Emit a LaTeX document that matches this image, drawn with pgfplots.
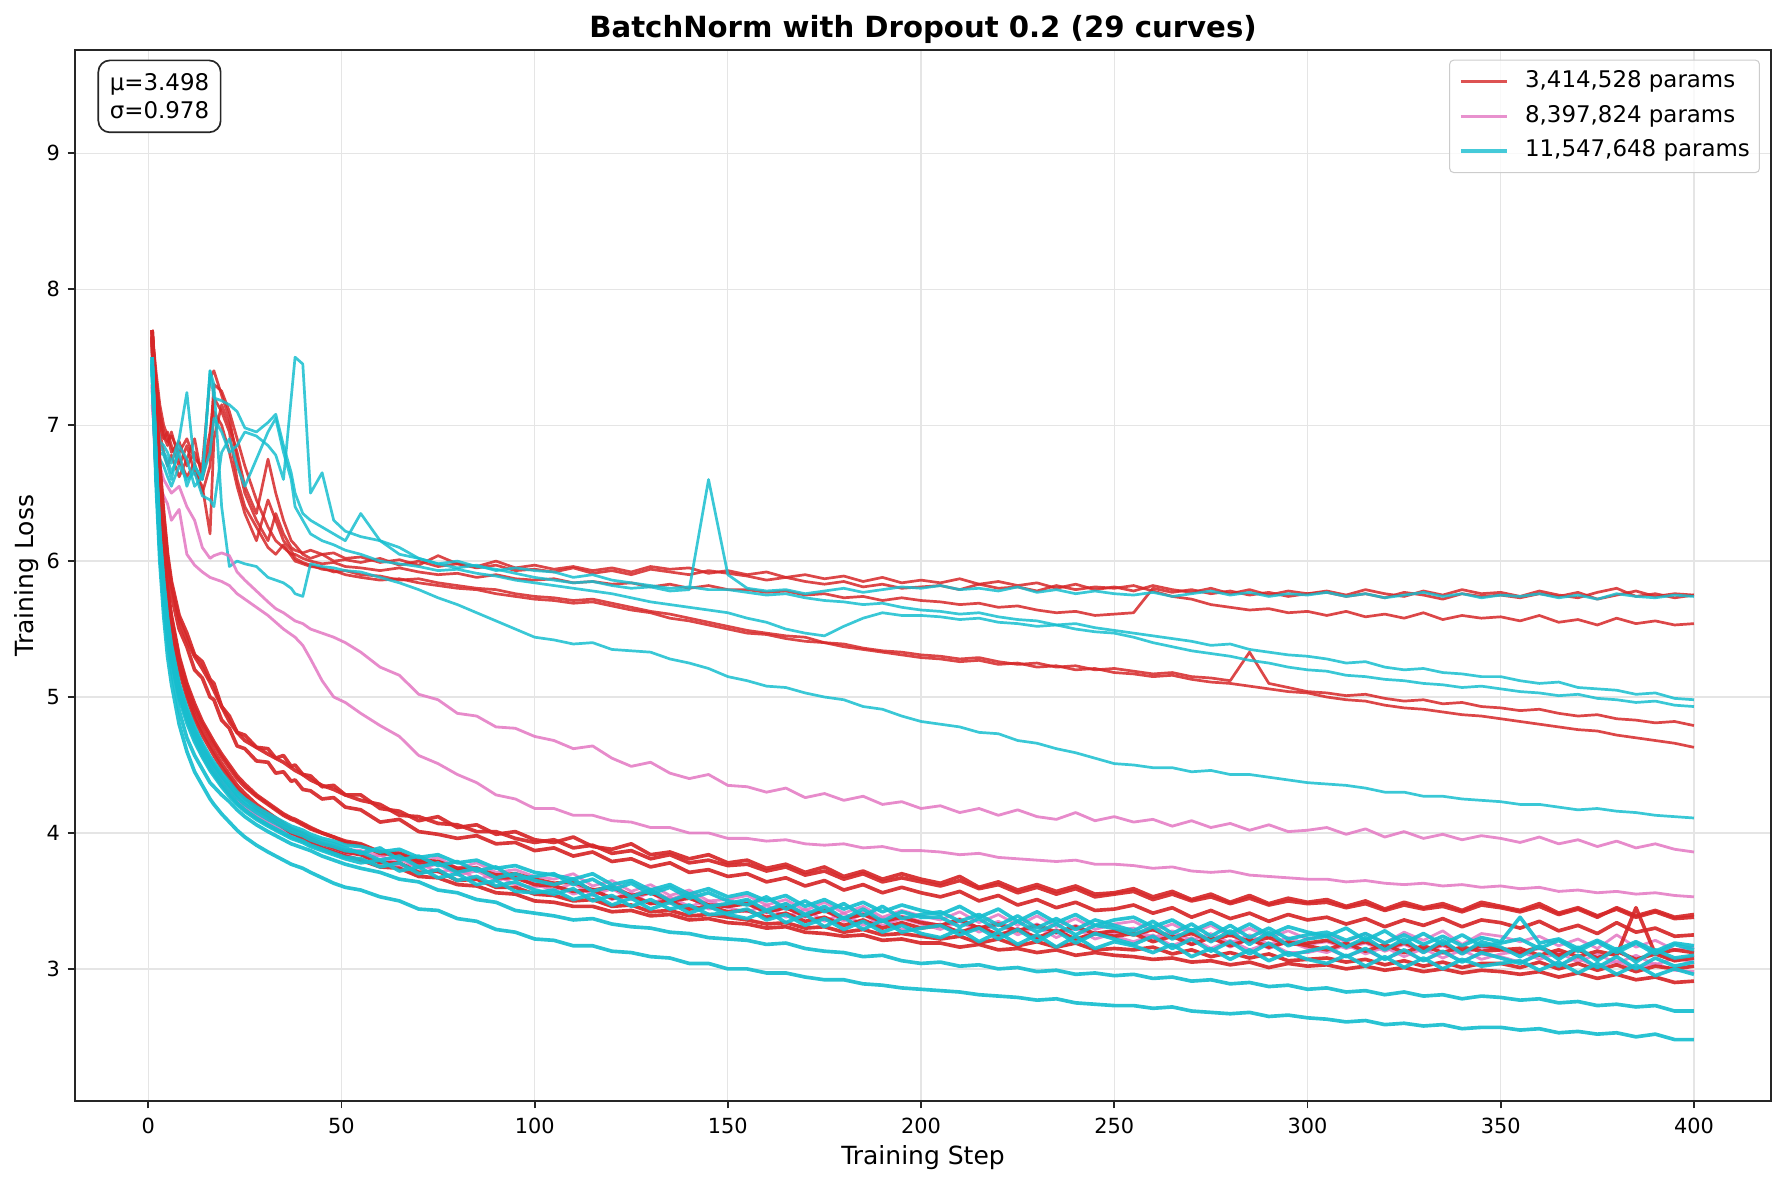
\documentclass[border=0pt]{standalone}
\usepackage{fontspec}
\setmainfont{DejaVu Sans}
\usepackage{pgfplots}
\usepackage{pgfplotstable}
\pgfplotsset{compat=1.18}
\definecolor{tred}{RGB}{214,39,40}
\definecolor{tpink}{RGB}{227,119,194}
\definecolor{tcyan}{RGB}{23,190,207}
\pgfplotstableread[header=false]{
x 1 2 3 4 5 6 8 10 12 14 16 17 19 21 23 25 28 31 33 35 37 38 40 42 45 48 51 55 60 65 70 75 80 85 90 95 100 105 110 115 120 125 130 135 140 145 150 155 160 165 170 175 180 185 190 195 200 205 210 215 220 225 230 235 240 245 250 255 260 265 270 275 280 285 290 295 300 305 310 315 320 325 330 335 340 345 350 355 360 365 370 375 380 385 390 395 400
ra 7.70 7.35 7.10 6.95 6.88 6.92 6.80 6.90 6.75 6.70 7.35 7.40 7.22 7.05 6.75 6.50 6.30 6.15 6.35 6.20 6.10 6.08 6.06 6.08 6.05 6.06 6.02 6.03 5.99 6.01 5.97 6.04 5.98 5.96 6.00 5.95 5.97 5.94 5.96 5.93 5.95 5.92 5.96 5.94 5.95 5.91 5.93 5.90 5.92 5.88 5.90 5.87 5.89 5.85 5.88 5.84 5.86 5.84 5.87 5.83 5.85 5.82 5.84 5.80 5.83 5.79 5.81 5.78 5.82 5.79 5.77 5.80 5.76 5.79 5.75 5.78 5.76 5.78 5.75 5.79 5.76 5.74 5.78 5.75 5.79 5.76 5.77 5.74 5.78 5.75 5.73 5.77 5.80 5.74 5.76 5.73 5.75
rb 7.68 7.30 7.00 6.90 6.95 6.85 6.70 6.85 6.65 6.55 6.20 6.90 7.15 7.00 6.80 6.55 6.35 6.75 6.50 6.30 6.15 6.12 6.05 6.02 6.05 6.00 6.01 5.99 6.02 5.97 6.00 5.96 5.98 5.95 5.97 5.93 5.94 5.92 5.95 5.91 5.93 5.90 5.94 5.92 5.90 5.93 5.91 5.89 5.86 5.88 5.85 5.83 5.85 5.81 5.83 5.80 5.81 5.82 5.79 5.83 5.80 5.81 5.78 5.82 5.79 5.81 5.80 5.82 5.78 5.74 5.72 5.68 5.66 5.64 5.65 5.62 5.63 5.60 5.63 5.59 5.61 5.58 5.62 5.57 5.60 5.58 5.59 5.56 5.60 5.55 5.57 5.53 5.58 5.54 5.56 5.53 5.54
rc 7.66 7.25 6.95 6.80 6.70 6.78 6.62 6.75 6.90 6.60 6.85 7.30 7.25 7.10 6.90 6.70 6.45 6.25 6.15 6.10 6.05 6.05 6.02 6.00 5.98 5.99 5.96 5.95 5.93 5.95 5.92 5.90 5.91 5.88 5.90 5.87 5.86 5.87 5.84 5.85 5.83 5.84 5.81 5.83 5.80 5.82 5.79 5.79 5.77 5.78 5.75 5.76 5.73 5.74 5.71 5.73 5.71 5.70 5.68 5.69 5.66 5.67 5.64 5.62 5.63 5.60 5.61 5.62 5.80 5.77 5.79 5.76 5.78 5.75 5.77 5.74 5.76 5.77 5.74 5.76 5.73 5.77 5.75 5.72 5.76 5.74 5.75 5.73 5.76 5.74 5.77 5.72 5.75 5.78 5.74 5.76 5.75
rd 7.70 7.40 7.15 7.00 6.92 6.80 6.88 6.70 6.80 6.65 6.95 7.20 7.10 6.95 6.60 6.40 6.25 6.10 6.05 6.12 6.04 6.00 5.98 5.96 5.95 5.92 5.93 5.90 5.89 5.86 5.87 5.84 5.82 5.80 5.79 5.76 5.74 5.73 5.71 5.72 5.69 5.66 5.63 5.61 5.58 5.55 5.52 5.49 5.47 5.45 5.44 5.40 5.39 5.36 5.34 5.33 5.31 5.30 5.28 5.29 5.26 5.24 5.25 5.22 5.23 5.20 5.21 5.19 5.17 5.18 5.15 5.14 5.12 5.33 5.10 5.07 5.04 5.03 5.01 5.02 4.99 4.97 4.98 4.95 4.96 4.93 4.92 4.90 4.91 4.88 4.86 4.87 4.84 4.83 4.81 4.82 4.79
re 7.69 7.32 7.05 6.92 6.85 6.95 6.75 6.62 6.72 6.50 6.70 7.10 7.00 6.80 6.55 6.35 6.15 6.45 6.30 6.15 6.08 6.02 5.99 5.97 5.94 5.93 5.90 5.88 5.86 5.87 5.84 5.82 5.80 5.79 5.76 5.74 5.72 5.71 5.69 5.70 5.67 5.64 5.62 5.58 5.56 5.53 5.50 5.47 5.46 5.43 5.41 5.40 5.37 5.35 5.33 5.31 5.29 5.28 5.26 5.27 5.24 5.25 5.22 5.23 5.20 5.21 5.18 5.17 5.15 5.16 5.13 5.11 5.10 5.08 5.06 5.04 5.03 5.00 4.98 4.97 4.94 4.92 4.91 4.89 4.87 4.86 4.84 4.82 4.80 4.78 4.76 4.75 4.72 4.70 4.68 4.66 4.63
ca 7.55 7.10 6.88 6.85 6.80 6.72 6.90 7.24 6.70 6.60 7.40 7.20 7.18 7.15 7.10 6.98 6.95 7.02 7.08 6.85 6.65 6.50 6.35 6.30 6.25 6.20 6.15 6.35 6.15 6.05 6.02 5.98 6.00 5.96 5.94 5.91 5.88 5.86 5.84 5.85 5.82 5.80 5.81 5.78 5.79 6.60 5.90 5.80 5.78 5.79 5.76 5.78 5.80 5.77 5.79 5.81 5.80 5.82 5.79 5.80 5.78 5.81 5.77 5.79 5.76 5.78 5.76 5.75 5.77 5.74 5.76 5.78 5.75 5.77 5.74 5.76 5.75 5.77 5.74 5.76 5.73 5.75 5.77 5.74 5.76 5.73 5.75 5.74 5.76 5.73 5.75 5.72 5.76 5.74 5.73 5.75 5.74
cb 7.55 7.05 6.80 6.78 6.70 6.60 6.85 6.75 6.55 6.62 6.80 7.05 6.95 6.80 6.85 6.95 6.92 6.85 6.78 6.60 7.20 7.50 7.45 6.50 6.65 6.30 6.22 6.18 6.15 6.10 6.02 5.98 5.95 5.97 5.93 5.95 5.93 5.92 5.88 5.90 5.86 5.84 5.82 5.80 5.81 5.79 5.79 5.77 5.75 5.76 5.73 5.71 5.70 5.68 5.69 5.66 5.64 5.63 5.61 5.62 5.59 5.57 5.56 5.53 5.54 5.51 5.49 5.47 5.45 5.43 5.41 5.38 5.39 5.35 5.33 5.31 5.30 5.28 5.25 5.26 5.22 5.20 5.21 5.18 5.17 5.15 5.15 5.12 5.10 5.11 5.07 5.06 5.05 5.02 5.03 4.99 4.98
cc 7.52 7.00 6.75 6.70 6.62 6.55 6.70 6.60 6.65 6.48 6.45 6.40 6.80 6.90 6.70 6.55 6.75 6.95 7.05 6.80 6.60 6.40 6.30 6.20 6.15 6.12 6.08 6.05 6.00 5.98 5.96 5.93 5.94 5.91 5.89 5.86 5.84 5.82 5.80 5.78 5.76 5.73 5.70 5.68 5.66 5.64 5.62 5.58 5.55 5.50 5.47 5.45 5.52 5.58 5.62 5.60 5.60 5.59 5.57 5.58 5.55 5.54 5.52 5.53 5.50 5.48 5.47 5.44 5.40 5.37 5.34 5.32 5.30 5.27 5.25 5.22 5.20 5.19 5.16 5.15 5.13 5.12 5.10 5.09 5.07 5.08 5.06 5.04 5.03 5.01 5.02 4.99 4.98 4.96 4.97 4.94 4.93
cd 7.50 7.00 6.85 6.80 6.75 6.65 6.80 6.55 6.70 6.60 7.40 7.30 6.40 5.96 6.00 5.98 5.96 5.88 5.86 5.84 5.80 5.76 5.74 5.98 5.96 5.95 5.93 5.92 5.88 5.84 5.79 5.73 5.68 5.62 5.56 5.50 5.44 5.42 5.39 5.40 5.35 5.34 5.33 5.28 5.25 5.21 5.15 5.12 5.08 5.07 5.03 5.00 4.98 4.93 4.91 4.86 4.82 4.80 4.78 4.74 4.73 4.68 4.66 4.62 4.59 4.55 4.51 4.50 4.48 4.48 4.45 4.46 4.43 4.43 4.41 4.39 4.37 4.36 4.35 4.33 4.30 4.30 4.27 4.27 4.25 4.24 4.23 4.21 4.21 4.19 4.17 4.18 4.16 4.15 4.13 4.12 4.11
pa 7.25 6.95 6.70 6.60 6.55 6.50 6.55 6.40 6.30 6.10 6.02 6.04 6.06 6.04 5.92 5.86 5.78 5.70 5.65 5.62 5.58 5.56 5.54 5.50 5.47 5.44 5.40 5.33 5.22 5.16 5.02 4.98 4.88 4.86 4.78 4.77 4.71 4.68 4.62 4.64 4.55 4.49 4.52 4.44 4.40 4.43 4.35 4.34 4.30 4.33 4.26 4.29 4.24 4.27 4.21 4.23 4.18 4.20 4.15 4.18 4.13 4.17 4.12 4.10 4.15 4.09 4.12 4.08 4.10 4.05 4.09 4.04 4.07 4.02 4.06 4.01 4.02 4.04 3.99 4.03 3.97 4.01 3.96 3.99 3.95 3.98 3.96 3.93 3.97 3.92 3.95 3.90 3.94 3.89 3.92 3.88 3.86
pb 7.15 6.80 6.55 6.48 6.42 6.30 6.38 6.05 5.97 5.92 5.88 5.87 5.85 5.82 5.76 5.72 5.66 5.60 5.55 5.50 5.46 5.44 5.38 5.28 5.12 5.00 4.96 4.88 4.79 4.71 4.57 4.51 4.43 4.37 4.28 4.25 4.18 4.18 4.13 4.13 4.09 4.08 4.04 4.04 4.00 4.00 3.96 3.96 3.94 3.95 3.92 3.91 3.92 3.89 3.90 3.87 3.87 3.86 3.84 3.85 3.82 3.81 3.80 3.79 3.80 3.77 3.77 3.76 3.74 3.75 3.72 3.71 3.72 3.69 3.68 3.67 3.66 3.66 3.64 3.65 3.63 3.62 3.63 3.61 3.62 3.60 3.61 3.59 3.60 3.57 3.58 3.56 3.57 3.55 3.56 3.54 3.53
pc 7.30 6.65 6.12 5.78 5.52 5.32 5.05 4.87 4.73 4.61 4.51 4.47 4.39 4.32 4.26 4.21 4.15 4.10 4.07 4.04 4.01 4.00 3.98 3.96 3.93 3.91 3.88 3.87 3.83 3.86 3.79 3.82 3.74 3.78 3.71 3.73 3.68 3.66 3.70 3.61 3.65 3.57 3.62 3.54 3.58 3.50 3.51 3.54 3.47 3.51 3.43 3.49 3.41 3.46 3.38 3.43 3.39 3.36 3.42 3.34 3.40 3.32 3.39 3.31 3.37 3.29 3.33 3.35 3.28 3.33 3.26 3.32 3.24 3.30 3.23 3.28 3.22 3.25 3.20 3.26 3.19 3.27 3.21 3.28 3.18 3.26 3.24 3.20 3.24 3.17 3.22 3.15 3.25 3.16 3.21 3.14 3.16
pd 7.28 6.62 6.08 5.74 5.48 5.28 5.01 4.83 4.69 4.57 4.47 4.43 4.35 4.28 4.22 4.17 4.11 4.06 4.03 4.00 3.97 3.96 3.94 3.92 3.89 3.87 3.84 3.80 3.84 3.75 3.78 3.71 3.74 3.66 3.69 3.62 3.60 3.62 3.55 3.59 3.51 3.56 3.48 3.53 3.46 3.50 3.45 3.42 3.47 3.38 3.44 3.35 3.41 3.32 3.38 3.29 3.30 3.33 3.27 3.31 3.24 3.30 3.22 3.29 3.21 3.27 3.24 3.20 3.25 3.17 3.23 3.15 3.21 3.14 3.19 3.12 3.12 3.15 3.09 3.14 3.07 3.13 3.06 3.12 3.06 3.11 3.09 3.05 3.10 3.03 3.08 3.01 3.06 3.00 3.04 2.99 2.98
pe 7.30 6.64 6.10 5.76 5.50 5.30 5.03 4.85 4.71 4.59 4.49 4.45 4.37 4.30 4.24 4.19 4.13 4.08 4.05 4.02 3.99 3.98 3.96 3.94 3.91 3.89 3.86 3.84 3.80 3.83 3.76 3.79 3.72 3.75 3.67 3.70 3.64 3.62 3.66 3.57 3.62 3.54 3.59 3.51 3.56 3.47 3.48 3.50 3.44 3.48 3.40 3.45 3.37 3.42 3.35 3.39 3.35 3.32 3.37 3.30 3.35 3.28 3.33 3.26 3.32 3.25 3.28 3.30 3.23 3.28 3.21 3.26 3.19 3.25 3.18 3.23 3.18 3.20 3.15 3.19 3.13 3.18 3.12 3.17 3.11 3.16 3.14 3.11 3.15 3.09 3.14 3.08 3.13 3.07 3.12 3.06 3.10
pf 7.29 6.63 6.09 5.75 5.49 5.29 5.02 4.84 4.70 4.58 4.48 4.44 4.36 4.29 4.23 4.18 4.12 4.07 4.04 4.01 3.98 3.97 3.95 3.93 3.90 3.88 3.85 3.85 3.78 3.81 3.74 3.77 3.69 3.72 3.65 3.68 3.62 3.58 3.63 3.54 3.59 3.51 3.56 3.48 3.53 3.44 3.46 3.48 3.41 3.45 3.38 3.43 3.35 3.40 3.32 3.37 3.33 3.29 3.35 3.27 3.33 3.25 3.31 3.23 3.30 3.22 3.26 3.28 3.21 3.26 3.18 3.24 3.16 3.22 3.15 3.20 3.15 3.12 3.18 3.11 3.16 3.09 3.15 3.08 3.14 3.07 3.11 3.13 3.07 3.12 3.05 3.11 3.04 3.10 3.03 3.08 3.05
la 7.70 7.20 6.70 6.35 6.05 5.85 5.60 5.47 5.31 5.26 5.13 5.10 4.93 4.86 4.74 4.72 4.63 4.62 4.55 4.57 4.49 4.50 4.43 4.42 4.34 4.35 4.28 4.28 4.18 4.16 4.09 4.12 4.04 4.06 3.99 4.01 3.95 3.93 3.97 3.90 3.88 3.92 3.84 3.86 3.81 3.84 3.78 3.80 3.74 3.77 3.71 3.75 3.68 3.72 3.66 3.70 3.66 3.63 3.68 3.60 3.64 3.58 3.62 3.57 3.61 3.55 3.56 3.59 3.53 3.57 3.51 3.55 3.49 3.54 3.48 3.52 3.49 3.51 3.46 3.50 3.44 3.49 3.45 3.48 3.43 3.49 3.46 3.43 3.48 3.41 3.45 3.39 3.44 3.38 3.42 3.37 3.38
lb 7.70 7.10 6.60 6.25 5.95 5.75 5.50 5.37 5.20 5.14 5.00 4.98 4.83 4.77 4.64 4.62 4.53 4.52 4.44 4.45 4.38 4.39 4.32 4.31 4.25 4.26 4.19 4.17 4.08 4.10 4.01 3.99 3.96 3.98 3.92 3.93 3.87 3.89 3.83 3.86 3.79 3.81 3.75 3.78 3.71 3.73 3.68 3.70 3.64 3.67 3.61 3.65 3.58 3.62 3.56 3.60 3.56 3.53 3.57 3.50 3.54 3.47 3.51 3.45 3.49 3.43 3.44 3.47 3.41 3.45 3.38 3.43 3.37 3.41 3.35 3.40 3.36 3.38 3.33 3.37 3.31 3.36 3.32 3.37 3.31 3.36 3.34 3.30 3.35 3.28 3.32 3.26 3.34 3.27 3.30 3.24 3.25
lc 7.65 6.95 6.40 6.05 5.78 5.58 5.28 5.08 4.92 4.80 4.70 4.65 4.56 4.48 4.40 4.34 4.27 4.21 4.17 4.13 4.10 4.09 4.06 4.03 4.00 3.97 3.94 3.92 3.86 3.85 3.80 3.79 3.74 3.74 3.69 3.70 3.66 3.63 3.64 3.58 3.60 3.54 3.56 3.50 3.52 3.47 3.46 3.48 3.42 3.45 3.39 3.43 3.37 3.40 3.35 3.38 3.34 3.32 3.36 3.30 3.33 3.28 3.32 3.27 3.31 3.26 3.28 3.25 3.29 3.23 3.26 3.21 3.25 3.20 3.23 3.18 3.19 3.21 3.17 3.20 3.15 3.19 3.14 3.18 3.13 3.17 3.15 3.12 3.16 3.10 3.14 3.08 3.13 3.07 3.11 3.06 3.08
ld 7.62 6.90 6.32 5.98 5.70 5.50 5.20 5.00 4.84 4.72 4.62 4.57 4.48 4.40 4.32 4.26 4.18 4.12 4.08 4.04 4.00 3.99 3.96 3.93 3.89 3.86 3.83 3.80 3.75 3.74 3.68 3.67 3.62 3.61 3.56 3.55 3.50 3.49 3.46 3.46 3.42 3.43 3.39 3.40 3.36 3.37 3.34 3.33 3.30 3.31 3.27 3.26 3.24 3.25 3.21 3.22 3.19 3.19 3.16 3.18 3.14 3.15 3.12 3.14 3.10 3.12 3.10 3.09 3.07 3.08 3.05 3.06 3.03 3.05 3.01 3.04 3.02 3.03 3.00 3.02 2.99 3.01 2.98 3.00 2.97 2.99 2.98 2.96 2.98 2.94 2.97 2.93 2.96 2.92 2.94 2.90 2.91
le 7.66 6.98 6.42 6.08 5.80 5.60 5.30 5.10 4.95 4.82 4.72 4.67 4.58 4.50 4.42 4.36 4.28 4.22 4.18 4.14 4.11 4.10 4.07 4.04 4.00 3.97 3.93 3.91 3.85 3.84 3.78 3.79 3.72 3.74 3.67 3.67 3.62 3.61 3.57 3.58 3.52 3.54 3.48 3.50 3.44 3.46 3.42 3.43 3.38 3.41 3.35 3.38 3.32 3.36 3.30 3.34 3.30 3.32 3.27 3.31 3.25 3.29 3.23 3.28 3.22 3.26 3.24 3.26 3.20 3.24 3.18 3.23 3.17 3.22 3.16 3.20 3.17 3.14 3.19 3.13 3.18 3.12 3.17 3.12 3.16 3.13 3.14 3.15 3.10 3.14 3.09 3.13 3.10 3.45 3.11 3.14 3.12
lf 7.64 6.92 6.36 6.01 5.73 5.53 5.23 5.03 4.87 4.75 4.65 4.60 4.51 4.43 4.35 4.29 4.21 4.15 4.11 4.07 4.03 4.02 3.99 3.96 3.92 3.89 3.86 3.84 3.78 3.78 3.71 3.72 3.65 3.66 3.60 3.60 3.55 3.54 3.50 3.51 3.46 3.47 3.42 3.43 3.39 3.40 3.38 3.36 3.33 3.34 3.30 3.31 3.27 3.29 3.25 3.26 3.24 3.22 3.24 3.19 3.22 3.17 3.20 3.16 3.19 3.14 3.15 3.14 3.16 3.11 3.14 3.09 3.12 3.08 3.11 3.06 3.07 3.08 3.05 3.07 3.03 3.06 3.02 3.05 3.01 3.04 3.04 3.01 3.05 3.00 3.04 2.99 3.03 2.98 3.02 3.00 3.02
lg 7.70 7.18 6.68 6.32 6.02 5.82 5.57 5.42 5.30 5.21 5.11 5.05 4.93 4.82 4.74 4.68 4.63 4.58 4.55 4.52 4.48 4.46 4.43 4.39 4.35 4.32 4.28 4.24 4.21 4.13 4.12 4.07 4.06 4.01 4.01 3.96 3.93 3.95 3.89 3.91 3.85 3.87 3.81 3.84 3.78 3.80 3.76 3.77 3.72 3.75 3.69 3.72 3.66 3.70 3.64 3.67 3.64 3.61 3.65 3.59 3.62 3.56 3.60 3.55 3.59 3.53 3.55 3.57 3.51 3.55 3.50 3.53 3.48 3.52 3.47 3.50 3.48 3.49 3.45 3.48 3.43 3.47 3.44 3.46 3.42 3.47 3.45 3.42 3.46 3.40 3.44 3.38 3.45 3.39 3.43 3.38 3.40
ma 7.45 6.75 6.20 5.85 5.58 5.38 5.10 4.92 4.78 4.66 4.56 4.52 4.44 4.37 4.30 4.25 4.19 4.14 4.11 4.08 4.05 4.04 4.02 3.99 3.96 3.94 3.91 3.90 3.86 3.88 3.82 3.84 3.78 3.80 3.74 3.76 3.71 3.69 3.66 3.70 3.62 3.65 3.58 3.62 3.55 3.59 3.53 3.56 3.50 3.54 3.46 3.51 3.44 3.49 3.42 3.47 3.43 3.40 3.46 3.38 3.44 3.35 3.42 3.34 3.40 3.32 3.36 3.38 3.31 3.36 3.28 3.34 3.26 3.33 3.25 3.31 3.27 3.24 3.30 3.21 3.28 3.19 3.26 3.18 3.25 3.17 3.19 3.22 3.15 3.21 3.13 3.20 3.12 3.19 3.11 3.18 3.14
mb 7.45 6.70 6.12 5.77 5.50 5.30 5.02 4.84 4.70 4.58 4.48 4.44 4.36 4.29 4.22 4.17 4.11 4.06 4.03 4.00 3.97 3.96 3.94 3.91 3.88 3.85 3.82 3.81 3.75 3.78 3.70 3.73 3.65 3.68 3.61 3.64 3.58 3.55 3.59 3.50 3.54 3.46 3.51 3.44 3.47 3.40 3.41 3.44 3.36 3.40 3.32 3.37 3.29 3.35 3.27 3.32 3.26 3.23 3.29 3.20 3.27 3.18 3.25 3.16 3.24 3.15 3.20 3.17 3.12 3.18 3.09 3.15 3.07 3.14 3.06 3.12 3.07 3.04 3.10 3.02 3.09 3.01 3.08 3.00 3.07 3.02 3.04 3.06 2.99 3.05 2.97 3.04 2.96 3.03 2.95 3.00 2.96
mc 7.50 6.70 6.10 5.70 5.40 5.20 4.90 4.70 4.57 4.47 4.37 4.34 4.28 4.23 4.17 4.12 4.06 4.01 3.98 3.95 3.92 3.91 3.89 3.87 3.83 3.80 3.77 3.74 3.71 3.66 3.64 3.58 3.56 3.51 3.49 3.43 3.41 3.39 3.36 3.37 3.33 3.31 3.30 3.27 3.26 3.23 3.22 3.21 3.18 3.19 3.15 3.13 3.12 3.09 3.10 3.06 3.04 3.05 3.02 3.03 3.00 3.01 2.98 2.99 2.96 2.97 2.95 2.96 2.93 2.94 2.91 2.92 2.89 2.90 2.87 2.88 2.85 2.86 2.83 2.84 2.81 2.83 2.80 2.81 2.78 2.80 2.79 2.77 2.78 2.75 2.76 2.73 2.74 2.72 2.73 2.69 2.69
md 7.50 6.60 6.00 5.60 5.30 5.10 4.80 4.60 4.45 4.35 4.25 4.21 4.14 4.08 4.02 3.97 3.91 3.86 3.83 3.80 3.77 3.76 3.74 3.71 3.67 3.63 3.60 3.58 3.53 3.50 3.44 3.43 3.37 3.35 3.29 3.27 3.22 3.21 3.17 3.17 3.13 3.12 3.09 3.08 3.04 3.04 3.00 3.00 2.97 2.97 2.94 2.92 2.92 2.89 2.88 2.86 2.85 2.84 2.83 2.81 2.80 2.79 2.77 2.78 2.75 2.74 2.73 2.73 2.71 2.72 2.69 2.68 2.67 2.68 2.65 2.66 2.64 2.63 2.61 2.62 2.59 2.60 2.58 2.59 2.56 2.57 2.57 2.55 2.56 2.53 2.54 2.52 2.53 2.50 2.52 2.48 2.48
me 7.45 6.72 6.16 5.81 5.54 5.34 5.06 4.88 4.74 4.62 4.52 4.48 4.40 4.33 4.26 4.21 4.15 4.10 4.07 4.04 4.01 4.00 3.98 3.95 3.92 3.90 3.87 3.86 3.80 3.83 3.75 3.78 3.71 3.74 3.67 3.70 3.65 3.62 3.66 3.57 3.61 3.53 3.58 3.50 3.55 3.46 3.48 3.51 3.43 3.48 3.40 3.46 3.37 3.44 3.35 3.42 3.38 3.38 3.31 3.37 3.28 3.35 3.27 3.33 3.25 3.32 3.30 3.25 3.31 3.22 3.29 3.20 3.28 3.18 3.27 3.17 3.22 3.24 3.16 3.23 3.14 3.22 3.12 3.21 3.11 3.20 3.16 3.09 3.17 3.07 3.16 3.06 3.15 3.05 3.14 3.08 3.10
mf 7.45 6.68 6.10 5.74 5.47 5.27 4.99 4.81 4.67 4.56 4.46 4.42 4.34 4.27 4.21 4.16 4.10 4.05 4.02 3.99 3.96 3.95 3.93 3.90 3.87 3.84 3.81 3.78 3.80 3.72 3.75 3.67 3.70 3.62 3.65 3.57 3.56 3.58 3.51 3.55 3.47 3.52 3.44 3.49 3.41 3.46 3.40 3.37 3.43 3.34 3.40 3.31 3.38 3.29 3.36 3.27 3.30 3.32 3.25 3.30 3.22 3.29 3.20 3.28 3.19 3.26 3.22 3.18 3.24 3.15 3.22 3.13 3.20 3.11 3.19 3.10 3.13 3.16 3.09 3.15 3.07 3.14 3.06 3.13 3.05 3.12 3.08 3.04 3.11 3.02 3.10 3.01 3.09 3.00 3.08 3.02 3.05
mg 7.48 6.74 6.18 5.83 5.56 5.36 5.08 4.90 4.76 4.64 4.54 4.50 4.42 4.35 4.28 4.23 4.17 4.12 4.09 4.06 4.03 4.02 4.00 3.97 3.94 3.92 3.89 3.85 3.89 3.80 3.83 3.76 3.79 3.72 3.75 3.66 3.68 3.70 3.62 3.66 3.58 3.63 3.55 3.60 3.52 3.56 3.50 3.47 3.53 3.44 3.50 3.42 3.48 3.39 3.46 3.37 3.40 3.42 3.35 3.40 3.32 3.39 3.30 3.37 3.29 3.36 3.32 3.28 3.35 3.26 3.33 3.24 3.32 3.23 3.30 3.22 3.25 3.27 3.21 3.26 3.19 3.25 3.18 3.24 3.17 3.23 3.20 3.38 3.19 3.22 3.15 3.21 3.14 3.20 3.13 3.19 3.17
}\wide
\pgfplotstabletranspose[colnames from=0]{\tall}{\wide}
\pgfplotsset{
  up/.style={line width=1.3pt, draw opacity=0.85, line join=round, forget plot},
  pk/.style={line width=1.35pt, draw opacity=0.85, line join=round, forget plot},
  lo/.style={line width=1.75pt, draw opacity=0.92, line join=round, forget plot},
}
\begin{document}
\begin{tikzpicture}
\begin{axis}[
  scale only axis, width=814.1pt, height=504.5pt,
  xmin=-18.95, xmax=419.95, ymin=2.028, ymax=9.76,
  xtick={0,50,...,400}, ytick={3,4,...,9},
  grid=major, major grid style={black!10, line width=0.6pt},
  axis line style={black!85, line width=1.1pt},
  tick align=outside, major tick length=3.5pt, tick pos=left,
  tick style={black!85, line width=0.9pt},
  /pgf/number format/assume math mode=true,
  ticklabel style={font=\fontsize{10}{12}\selectfont},
  xticklabel style={anchor=base, inner sep=0pt, yshift=-12.1pt},
  yticklabel style={anchor=east, inner sep=0pt, xshift=-3.5pt},
  xlabel={Training Step}, ylabel={Training Loss},
  label style={font=\fontsize{12}{14}\selectfont},
  xlabel style={at={([yshift=-30.4pt]axis description cs:0.5,0)}, anchor=base, inner sep=0pt},
  ylabel style={at={([xshift=-17.4pt]axis description cs:0,0.5)}, anchor=south, inner sep=0pt},
  title={BatchNorm with Dropout 0.2 (29 curves)},
  title style={at={(axis description cs:0.5,1)}, anchor=base, inner sep=0pt, yshift=0pt, font=\bfseries\fontsize{14}{17}\selectfont},
  legend cell align=left,
  legend image code/.code={\draw[#1] (0pt,0pt) -- (22pt,0pt); \path[draw=none,fill=none] (30.8pt,0pt);},
  legend style={at={(rel axis cs:1,1)}, anchor=north east, xshift=-5.3pt, yshift=-4.6pt,
    draw=black!20, line width=0.5pt, rounded corners=2pt, fill=white, fill opacity=0.8, text opacity=1,
    font=\fontsize{11}{13}\selectfont, inner xsep=4.6pt, inner ysep=4.9pt, row sep=5.6pt,
    nodes={inner sep=0pt, text height=8.4pt, text depth=2.6pt}},
]
\addplot[up, tred] table[x=x,y=ra]{\tall};
\addplot[up, tred] table[x=x,y=rb]{\tall};
\addplot[up, tred] table[x=x,y=rc]{\tall};
\addplot[up, tred] table[x=x,y=rd]{\tall};
\addplot[up, tred] table[x=x,y=re]{\tall};
\addplot[up, tcyan] table[x=x,y=ca]{\tall};
\addplot[up, tcyan] table[x=x,y=cb]{\tall};
\addplot[up, tcyan] table[x=x,y=cc]{\tall};
\addplot[up, tcyan] table[x=x,y=cd]{\tall};
\addplot[pk, tpink] table[x=x,y=pa]{\tall};
\addplot[pk, tpink] table[x=x,y=pb]{\tall};
\addplot[pk, tpink] table[x=x,y=pc]{\tall};
\addplot[pk, tpink] table[x=x,y=pd]{\tall};
\addplot[pk, tpink] table[x=x,y=pe]{\tall};
\addplot[pk, tpink] table[x=x,y=pf]{\tall};
\addplot[lo, tred] table[x=x,y=la]{\tall};
\addplot[lo, tred] table[x=x,y=lb]{\tall};
\addplot[lo, tred] table[x=x,y=lc]{\tall};
\addplot[lo, tred] table[x=x,y=ld]{\tall};
\addplot[lo, tred] table[x=x,y=le]{\tall};
\addplot[lo, tred] table[x=x,y=lf]{\tall};
\addplot[lo, tred] table[x=x,y=lg]{\tall};
\addplot[lo, tcyan] table[x=x,y=ma]{\tall};
\addplot[lo, tcyan] table[x=x,y=mb]{\tall};
\addplot[lo, tcyan] table[x=x,y=mc]{\tall};
\addplot[lo, tcyan] table[x=x,y=md]{\tall};
\addplot[lo, tcyan] table[x=x,y=me]{\tall};
\addplot[lo, tcyan] table[x=x,y=mf]{\tall};
\addplot[lo, tcyan] table[x=x,y=mg]{\tall};
\addlegendimage{tred, line width=1.6pt, draw opacity=0.8}
\addlegendentry{3,414,528 params}
\addlegendimage{tpink, line width=1.6pt, draw opacity=0.8}
\addlegendentry{8,397,824 params}
\addlegendimage{tcyan, line width=1.6pt, draw opacity=0.8}
\addlegendentry{11,547,648 params}
\node[draw=black!85, line width=0.8pt, rounded corners=5.5pt, fill=white, anchor=north west, align=left,
  inner xsep=5.5pt, inner ysep=6.5pt, font=\fontsize{11}{13.2}\selectfont]
  at ([xshift=10.8pt,yshift=-4.6pt]rel axis cs:0,1) {μ=3.498\\σ=0.978};
\coordinate (ll) at (rel axis cs:0,0);
\coordinate (ur) at (rel axis cs:1,1);
\end{axis}
\pgfresetboundingbox
\path ([xshift=-36pt,yshift=-40.3pt]ll) rectangle ([xshift=7.2pt,yshift=24pt]ur);
\end{tikzpicture}
\end{document}
